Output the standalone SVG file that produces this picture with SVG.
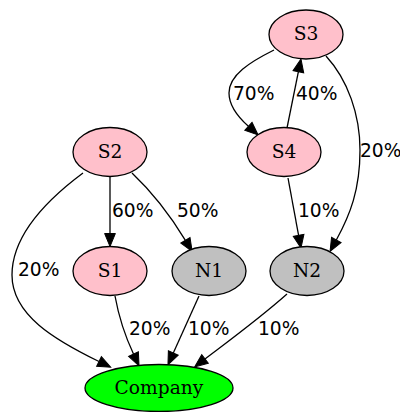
<svg xmlns="http://www.w3.org/2000/svg" width="400" height="412" viewBox="0 0 400 412">
<style>
.n ellipse{stroke:#000;stroke-width:1.3}
.s ellipse{fill:#ffc0cb}
.g ellipse{fill:#c0c0c0}
.c ellipse{fill:#00ff00}
.n text{font-family:"DejaVu Serif",serif;font-size:18.67px;text-anchor:middle;fill:#000}
.e path{fill:none;stroke:#000;stroke-width:1.3;marker-end:url(#ah)}
.e text{font-family:"DejaVu Sans",sans-serif;font-size:18.67px;fill:#000}
</style>
<defs>
<marker id="ah" markerUnits="userSpaceOnUse" markerWidth="13" markerHeight="12" refX="0" refY="6" orient="auto" viewBox="0 0 13 12" overflow="visible">
<path d="M0,0.6 L13,6 L0,11.4 z" fill="#000" stroke="#000" stroke-width="1"/>
</marker>
</defs>
<g id="edges" class="e">
<path d="M110,176.5 L110,233.5"/>
<path d="M132,173 C150,190 170,215 185.4,240.3"/>
<path d="M83,173 C40,205 12,240 12,275 C12,315 55,340 99,361.5"/>
<path d="M115,296 C119,318 126,338 133.5,354"/>
<path d="M199,296 L173.3,353"/>
<path d="M287,294 C260,318 230,340 205,359"/>
<path d="M288,178 L298.6,235.3"/>
<path d="M326,56 C348,80 360,115 360,150 C360,190 350,215 336.3,240"/>
<path d="M274,50 C250,62 229,75 229,93 C229,105 238,117 248.4,126.3"/>
<path d="M287,128 L298.4,71.7"/>
<text x="112" y="217">60%</text>
<text x="177" y="217">50%</text>
<text x="18" y="276">20%</text>
<text x="129" y="335">20%</text>
<text x="188" y="335">10%</text>
<text x="258" y="335">10%</text>
<text x="298" y="217">10%</text>
<text x="360" y="157">20%</text>
<text x="233" y="100">70%</text>
<text x="296" y="100">40%</text>
</g>
<g id="S3" class="n s"><ellipse cx="306" cy="34.5" rx="37" ry="24.5"/><text x="306" y="40">S3</text></g>
<g id="S4" class="n s"><ellipse cx="284" cy="152" rx="37" ry="24.5"/><text x="284" y="158">S4</text></g>
<g id="S2" class="n s"><ellipse cx="110" cy="152" rx="37" ry="24.5"/><text x="110" y="158">S2</text></g>
<g id="S1" class="n s"><ellipse cx="110" cy="271" rx="37" ry="24.5"/><text x="110" y="277">S1</text></g>
<g id="N1" class="n g"><ellipse cx="209" cy="271" rx="37" ry="24.5"/><text x="209" y="277">N1</text></g>
<g id="N2" class="n g"><ellipse cx="307" cy="271" rx="37" ry="24.5"/><text x="307" y="277">N2</text></g>
<g id="Company" class="n c"><ellipse cx="159" cy="388" rx="74" ry="23.5"/><text x="159" y="394">Company</text></g>
</svg>
